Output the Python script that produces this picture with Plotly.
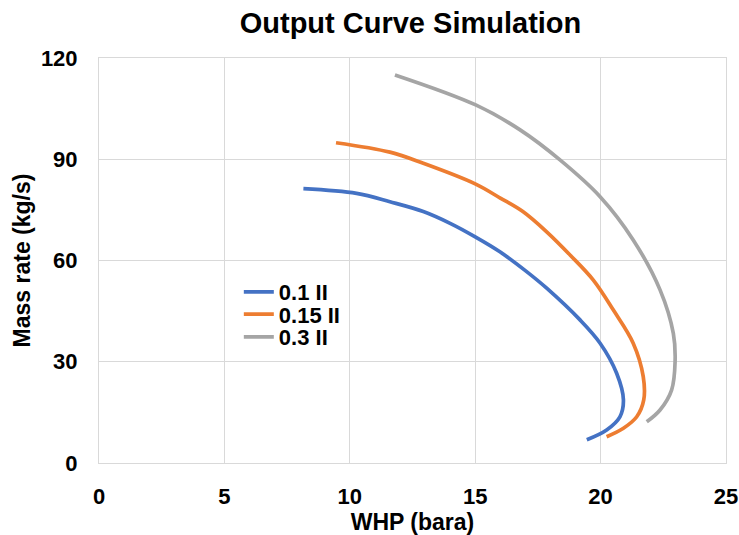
import plotly.graph_objects as go

# Data
whp_01 = [8.15, 10.27, 11.6, 12.93, 14.0, 15.0, 16.0, 17.0, 17.85, 19.18, 19.98, 20.64, 20.91, 20.77, 20.24, 19.45]
mass_01 = [81.3, 79.9, 77.4, 74.5, 71.0, 67.0, 62.5, 57.0, 51.8, 42.4, 35.5, 26.6, 18.7, 13.7, 9.8, 6.9]

whp_015 = [9.45, 11.6, 12.93, 15.0, 16.0, 16.9, 17.85, 18.8, 19.71, 20.51, 21.30, 21.70, 21.72, 21.44, 20.91, 20.24]
mass_015 = [94.9, 92.1, 88.8, 82.7, 78.5, 74.5, 68.5, 61.5, 54.2, 45.3, 35.5, 25.6, 18.7, 13.7, 10.3, 7.8]

whp_03 = [11.8, 15.02, 16.79, 18.38, 19.98, 21.30, 22.37, 22.90, 22.97, 22.83, 22.37, 21.84]
mass_03 = [115.0, 106.1, 98.7, 89.8, 78.9, 66.1, 51.3, 38.4, 30.0, 21.6, 15.7, 12.2]

names = ["0.1 II", "0.15 II", "0.3 II"]
colors = ["#4472C4", "#ED7D31", "#A5A5A5"]
xs_all = [whp_01, whp_015, whp_03]
ys_all = [mass_01, mass_015, mass_03]

x_ticks = [0, 5, 10, 15, 20, 25]
y_ticks = [0, 30, 60, 90, 120]

font_family = "Liberation Sans, Arial, sans-serif"
legend_ids = ["legend", "legend2", "legend3"]
legend_y = [0.422, 0.367, 0.311]

fig = go.Figure()
for name, xs, ys, col, lid in zip(names, xs_all, ys_all, colors, legend_ids):
    fig.add_trace(go.Scatter(x=xs, y=ys, mode="lines", name=f"<b>{name}</b>", legend=lid,
                             line=dict(color=col, width=3.7, shape="spline", smoothing=1.0)))

leg_common = dict(x=0.223, xanchor="left", yanchor="middle", bgcolor="rgba(0,0,0,0)",
                  borderwidth=0, font=dict(family=font_family, size=22, color="black"))

fig.update_layout(
    width=739, height=535,
    margin=dict(l=99, r=13, t=58, b=72, autoexpand=False),
    paper_bgcolor="white", plot_bgcolor="white",
    title=dict(text="<b>Output Curve Simulation</b>", x=0.5555, xanchor="center",
               y=0.957, yanchor="middle",
               font=dict(family=font_family, size=29, color="black")),
    font=dict(family=font_family, size=22, color="black"),
    showlegend=True,
    legend=dict(y=legend_y[0], **leg_common),
    legend2=dict(y=legend_y[1], **leg_common),
    legend3=dict(y=legend_y[2], **leg_common),
    xaxis=dict(range=[0, 25], tickvals=x_ticks, ticktext=[f"<b>{v}</b>" for v in x_ticks],
               showgrid=True, gridcolor="#D9D9D9", gridwidth=1, zeroline=False,
               ticks="", ticklabelstandoff=14, automargin=False,
               mirror=True, showline=True, linecolor="#D9D9D9", linewidth=1,
               tickfont=dict(family=font_family, size=22),
               title=dict(text="<b>WHP (bara)</b>", standoff=8,
                          font=dict(family=font_family, size=23))),
    yaxis=dict(range=[0, 120], tickvals=y_ticks, ticktext=[f"<b>{v}</b>" for v in y_ticks],
               showgrid=True, gridcolor="#D9D9D9", gridwidth=1, zeroline=False,
               ticks="", ticklabelstandoff=16, automargin=False,
               mirror=True, showline=True, linecolor="#D9D9D9", linewidth=1,
               tickfont=dict(family=font_family, size=22),
               title=dict(text="<b>Mass rate (kg/s)</b>", standoff=3,
                          font=dict(family=font_family, size=23))),
)

fig.write_html("out.html",
               config={"displayModeBar": False},
               post_script="document.body.style.margin='0';document.body.style.overflow='hidden';")
